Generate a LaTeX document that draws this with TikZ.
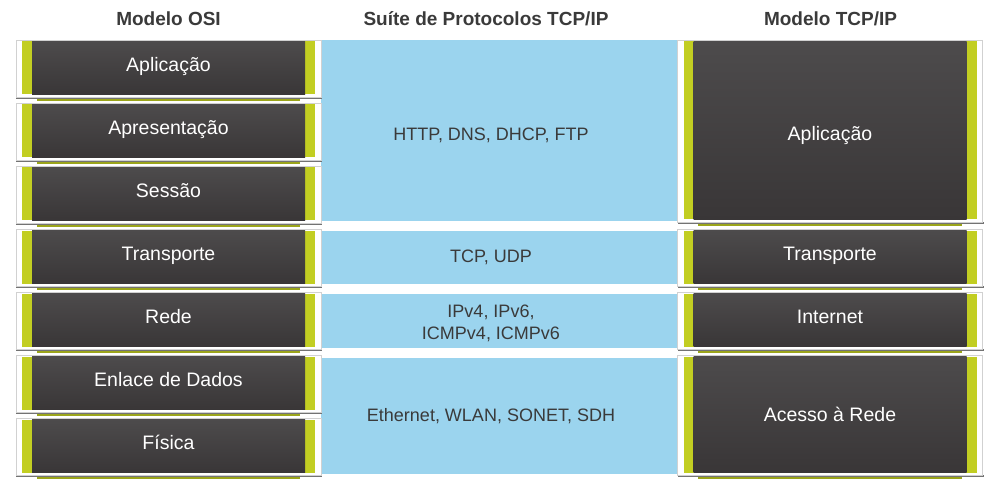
\documentclass[tikz,border=0pt]{standalone}
\usepackage{fontspec}
\setmainfont{Liberation Sans}

\definecolor{layergreen}{RGB}{194,206,34}
\definecolor{darktop}{RGB}{77,75,76}
\definecolor{darkbot}{RGB}{57,54,55}
\definecolor{suiteblue}{RGB}{155,212,238}
\definecolor{inkgrey}{RGB}{58,58,58}

\begin{document}
\begin{tikzpicture}[x=1pt, y=-1pt,
        frame/.style={rectangle, fill=white, draw=black!18, line width=0.4pt, inner sep=0pt, minimum width=305pt,
            append after command={\pgfextra{
                \fill[black!55] ([xshift=0.5pt]\tikzlastnode.south west) rectangle ([xshift=1pt,yshift=-2pt]\tikzlastnode.south east);
                \fill[layergreen!80!black] ([xshift=21pt,yshift=-2pt]\tikzlastnode.south west) rectangle ([xshift=-21pt,yshift=-4pt]\tikzlastnode.south east);}}},
        layer/.style={rectangle, fill=layergreen, inner sep=0pt, minimum width=293pt, text=white, text height=14pt, text depth=7pt, font=\fontsize{19.5}{23}\selectfont,
            path picture={\shade[top color=darktop, bottom color=darkbot] ([xshift=10pt]path picture bounding box.south west) rectangle ([xshift=-10pt]path picture bounding box.north east);}},
        band/.style={rectangle, fill=suiteblue, inner sep=0pt, minimum width=357pt},
        proto/.style={text=inkgrey, align=center, font=\fontsize{18}{22.7}\selectfont},
        title/.style={anchor=base, text=inkgrey, font=\bfseries\fontsize{19}{22}\selectfont}
    ]
        \useasboundingbox (0,0) rectangle (1001,489);

        % Column titles
        \node[title] (tosi) at (168.5,26) {Modelo OSI};
        \node[title] (tsuite) at (486,26) {Suíte de Protocolos TCP/IP};
        \node[title] (ttcp) at (830.5,26) {Modelo TCP/IP};

        % Protocol bands in the middle
        \node[band, minimum height=181pt] (band1) at (499.5,130.5) {};
        \node[band, minimum height=53pt] (band2) at (499.5,257.5) {};
        \node[band, minimum height=54pt] (band3) at (499.5,321) {};
        \node[band, minimum height=116pt] (band4) at (499.5,416) {};
        \node[proto] (proto1) at (491,135.3) {HTTP, DNS, DHCP, FTP};
        \node[proto] (proto2) at (491,257) {TCP, UDP};
        \node[proto] (proto3) at (491,323.5) {IPv4, IPv6,\\ICMPv4, ICMPv6};
        \node[proto] (proto4) at (491,416.3) {Ethernet, WLAN, SONET, SDH};

        % OSI model, left column
        \node[frame, minimum height=57pt] (osi1f) at (168.5,68.5) {};
        \node[layer, minimum height=53pt] (osi1) at (168.5,68) {Aplicação};
        \node[frame, minimum height=57pt] (osi2f) at (168.5,131.5) {};
        \node[layer, minimum height=53pt] (osi2) at (168.5,131) {Apresentação};
        \node[frame, minimum height=57pt] (osi3f) at (168.5,194.5) {};
        \node[layer, minimum height=53pt] (osi3) at (168.5,194) {Sessão};
        \node[frame, minimum height=57pt] (osi4f) at (168.5,257.5) {};
        \node[layer, minimum height=53pt] (osi4) at (168.5,257) {Transporte};
        \node[frame, minimum height=57pt] (osi5f) at (168.5,320.5) {};
        \node[layer, minimum height=53pt] (osi5) at (168.5,320) {Rede};
        \node[frame, minimum height=57pt] (osi6f) at (168.5,383.5) {};
        \node[layer, minimum height=53pt] (osi6) at (168.5,383) {Enlace de Dados};
        \node[frame, minimum height=57pt] (osi7f) at (168.5,446.5) {};
        \node[layer, minimum height=53pt] (osi7) at (168.5,446) {Física};

        % TCP/IP model, right column
        \node[frame, minimum height=182pt] (tcp1f) at (830,131) {};
        \node[layer, minimum height=178pt, text height=21pt, text depth=0pt] (tcp1) at (830,130.5) {Aplicação};
        \node[frame, minimum height=57pt] (tcp2f) at (830,257.5) {};
        \node[layer, minimum height=53pt] (tcp2) at (830,257) {Transporte};
        \node[frame, minimum height=57pt] (tcp3f) at (830,320.5) {};
        \node[layer, minimum height=53pt] (tcp3) at (830,320) {Internet};
        \node[frame, minimum height=120pt] (tcp4f) at (830,415) {};
        \node[layer, minimum height=116pt, text height=14pt, text depth=0pt] (tcp4) at (830,414.5) {Acesso à Rede};

    \end{tikzpicture}
\end{document}
